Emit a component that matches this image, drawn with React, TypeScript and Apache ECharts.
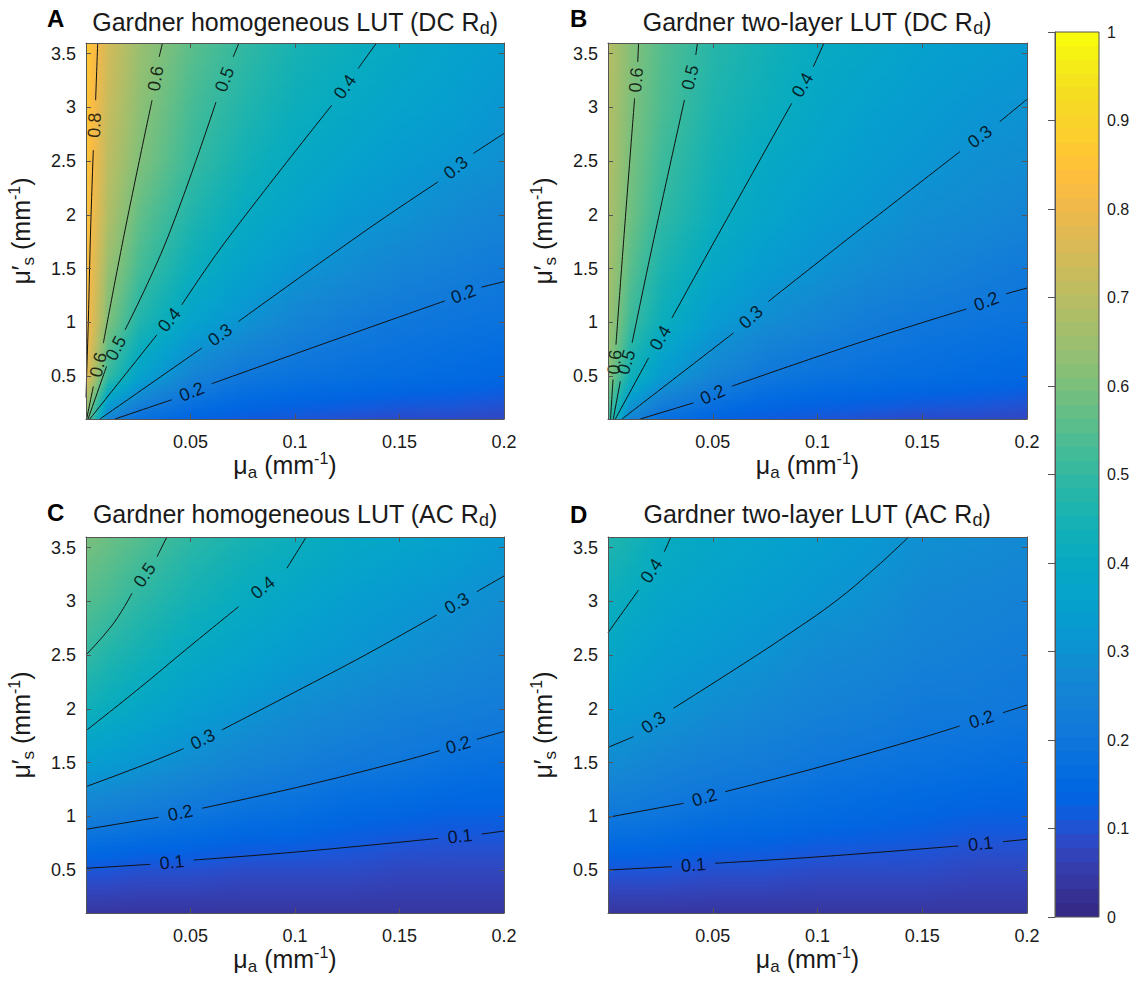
import React, { useEffect, useRef } from "react";
import * as echarts from "echarts";

const FONT = '"Liberation Sans", Arial, Helvetica, sans-serif';
const TEXT_COLOR = "#1a1a1a";
const AXIS_COLOR = "#555555";

// axis ranges and ticks
const X_MIN = 0;
const X_MAX = 0.2;
const Y_MIN = 0.1;
const Y_MAX = 3.6;
const X_TICKS = [0.05, 0.1, 0.15, 0.2];
const Y_TICKS = [0.5, 1, 1.5, 2, 2.5, 3, 3.5];

const MU_A_NODES = [0, 0.01, 0.025, 0.05, 0.075, 0.1, 0.125, 0.15, 0.175, 0.2];
const MU_S_NODES = [0.1, 0.5, 1.0, 1.5, 2.0, 2.5, 3.0, 3.6];

// rows follow MU_S_NODES (bottom to top), columns follow MU_A_NODES
const RD_A = [
  [0.61, 0.25, 0.17, 0.13, 0.11, 0.1, 0.09, 0.08, 0.08, 0.07],
  [0.79, 0.51, 0.36, 0.25, 0.2, 0.18, 0.17, 0.16, 0.15, 0.14],
  [0.84, 0.61, 0.47, 0.36, 0.3, 0.25, 0.22, 0.2, 0.19, 0.18],
  [0.85, 0.65, 0.53, 0.42, 0.36, 0.31, 0.28, 0.25, 0.23, 0.21],
  [0.86, 0.69, 0.57, 0.47, 0.4, 0.36, 0.32, 0.3, 0.27, 0.25],
  [0.87, 0.71, 0.61, 0.51, 0.44, 0.39, 0.36, 0.33, 0.31, 0.29],
  [0.87, 0.73, 0.63, 0.53, 0.47, 0.42, 0.39, 0.36, 0.34, 0.31],
  [0.88, 0.75, 0.65, 0.56, 0.5, 0.45, 0.42, 0.39, 0.36, 0.34],
];
const RD_B = [
  [0.52, 0.25, 0.17, 0.13, 0.11, 0.1, 0.09, 0.08, 0.08, 0.07],
  [0.63, 0.44, 0.33, 0.25, 0.2, 0.18, 0.17, 0.16, 0.15, 0.14],
  [0.66, 0.52, 0.42, 0.33, 0.28, 0.25, 0.22, 0.2, 0.19, 0.18],
  [0.67, 0.56, 0.46, 0.38, 0.33, 0.3, 0.27, 0.25, 0.23, 0.21],
  [0.68, 0.59, 0.5, 0.42, 0.37, 0.33, 0.31, 0.28, 0.27, 0.25],
  [0.69, 0.6, 0.52, 0.44, 0.39, 0.36, 0.33, 0.31, 0.29, 0.28],
  [0.69, 0.61, 0.54, 0.46, 0.42, 0.38, 0.35, 0.33, 0.31, 0.3],
  [0.7, 0.62, 0.55, 0.48, 0.44, 0.4, 0.38, 0.35, 0.34, 0.32],
];
const RD_C = [
  [0.03, 0.03, 0.03, 0.03, 0.03, 0.03, 0.03, 0.03, 0.03, 0.03],
  [0.1, 0.1, 0.09, 0.09, 0.08, 0.08, 0.08, 0.07, 0.07, 0.07],
  [0.23, 0.22, 0.21, 0.19, 0.17, 0.16, 0.14, 0.13, 0.12, 0.12],
  [0.34, 0.33, 0.31, 0.28, 0.25, 0.23, 0.21, 0.2, 0.18, 0.17],
  [0.43, 0.41, 0.38, 0.34, 0.31, 0.28, 0.26, 0.24, 0.23, 0.22],
  [0.5, 0.47, 0.44, 0.39, 0.36, 0.33, 0.31, 0.29, 0.27, 0.25],
  [0.55, 0.53, 0.49, 0.44, 0.4, 0.37, 0.34, 0.32, 0.3, 0.28],
  [0.6, 0.58, 0.55, 0.49, 0.45, 0.42, 0.39, 0.37, 0.35, 0.32],
];
const RD_D = [
  [0.03, 0.03, 0.03, 0.03, 0.03, 0.03, 0.03, 0.03, 0.03, 0.03],
  [0.1, 0.1, 0.1, 0.09, 0.09, 0.08, 0.08, 0.08, 0.07, 0.07],
  [0.2, 0.2, 0.19, 0.17, 0.16, 0.15, 0.14, 0.13, 0.12, 0.12],
  [0.28, 0.27, 0.25, 0.23, 0.22, 0.2, 0.19, 0.18, 0.17, 0.16],
  [0.33, 0.32, 0.31, 0.28, 0.26, 0.24, 0.23, 0.21, 0.21, 0.2],
  [0.38, 0.36, 0.34, 0.32, 0.3, 0.27, 0.26, 0.24, 0.23, 0.22],
  [0.42, 0.4, 0.37, 0.35, 0.33, 0.31, 0.29, 0.26, 0.25, 0.24],
  [0.47, 0.45, 0.41, 0.38, 0.36, 0.34, 0.32, 0.29, 0.28, 0.27],
];

type Pt = [number, number];
interface Contour {
  level: number;
  segments: Pt[][];
}

// contour lines [mu_a, mu_s'], split where the inline labels sit
const CONTOURS_A: Contour[] = [
  { level: 0.8, segments: [[[0.0056, 3.6], [0.0046, 3.067]], [[0.0035, 2.603], [0.0022, 1.86], [0.0011, 1.0], [0.0003, 0.5], [0, 0.3]]] },
  { level: 0.6, segments: [[[0.0366, 3.6], [0.035, 3.47]], [[0.0316, 3.067], [0.0187, 1.86], [0.0083, 0.806]], [[0.0035, 0.403], [0.0003, 0.1]]] },
  { level: 0.5, segments: [[[0.0732, 3.6], [0.0704, 3.47]], [[0.0622, 3.05], [0.0386, 1.766], [0.0187, 0.93]], [[0.0098, 0.589], [0.001, 0.1]]] },
  { level: 0.4, segments: [[[0.139, 3.6], [0.1302, 3.362]], [[0.1176, 3.021], [0.0673, 1.766], [0.0458, 1.162]], [[0.0339, 0.883], [0.0018, 0.1]]] },
  { level: 0.3, segments: [[[0.2, 2.758], [0.1853, 2.572]], [[0.1685, 2.308], [0.1343, 1.86], [0.0729, 1.007]], [[0.0554, 0.76], [0.0067, 0.1]]] },
  { level: 0.2, segments: [[[0.2, 1.379], [0.1892, 1.327]], [[0.1718, 1.2], [0.1159, 0.816], [0.0601, 0.428]], [[0.041, 0.279], [0.0139, 0.1]]] },
];
const CONTOURS_B: Contour[] = [
  { level: 0.6, segments: [[[0.0146, 3.6], [0.0142, 3.425]], [[0.0127, 3.085], [0.0075, 1.768], [0.0038, 0.792]], [[0.0024, 0.467], [0.0012, 0.1]]] },
  { level: 0.5, segments: [[[0.0427, 3.6], [0.0419, 3.488]], [[0.0365, 3.07], [0.0218, 1.768], [0.0115, 0.808]], [[0.0059, 0.451], [0.0025, 0.1]]] },
  { level: 0.4, segments: [[[0.1031, 3.6], [0.098, 3.379]], [[0.0877, 3.039], [0.0512, 1.768], [0.0305, 1.04]], [[0.0194, 0.669], [0.0035, 0.1]]] },
  { level: 0.3, segments: [[[0.2, 3.076], [0.187, 2.868]], [[0.168, 2.589], [0.1139, 1.768], [0.0766, 1.195]], [[0.0599, 0.901], [0.0067, 0.1]]] },
  { level: 0.2, segments: [[[0.2, 1.319], [0.1901, 1.266]], [[0.1711, 1.124], [0.117, 0.792], [0.0591, 0.405]], [[0.0408, 0.25], [0.0154, 0.1]]] },
];
const CONTOURS_C: Contour[] = [
  { level: 0.5, segments: [[[0.0387, 3.6], [0.034, 3.417]], [[0.022, 3.076], [0.0132, 2.797], [0, 2.502]]] },
  { level: 0.4, segments: [[[0.1054, 3.6], [0.0961, 3.309]], [[0.073, 2.951], [0.0483, 2.56], [0.026, 2.2], [0, 1.797]]] },
  { level: 0.3, segments: [[[0.2, 3.237], [0.187, 3.091]], [[0.1678, 2.874], [0.1344, 2.51], [0.0993, 2.15], [0.065, 1.804]], [[0.0467, 1.63], [0.0292, 1.49], [0, 1.276]]] },
  { level: 0.2, segments: [[[0.2, 1.79], [0.187, 1.717]], [[0.1691, 1.611], [0.1503, 1.508], [0.1025, 1.276], [0.0555, 1.075]], [[0.0347, 0.991], [0, 0.879]]] },
  { level: 0.1, segments: [[[0.2, 0.863], [0.1893, 0.835]], [[0.1686, 0.795], [0.1025, 0.671], [0.0515, 0.593]], [[0.0308, 0.553], [0, 0.516]]] },
];
const CONTOURS_D: Contour[] = [
  { level: 0.4, segments: [[[0.03, 3.6], [0.0269, 3.463]], [[0.0146, 3.107], [0, 2.709]]] },
  { level: 0.3, segments: [[[0.1435, 3.6], [0.1275, 3.31], [0.1085, 3.0], [0.085, 2.68], [0.0615, 2.38], [0.0313, 2.006]], [[0.0122, 1.741], [0, 1.642]]] },
  { level: 0.2, segments: [[[0.2, 2.036], [0.1886, 1.965]], [[0.1679, 1.841], [0.1489, 1.726], [0.1012, 1.46], [0.0559, 1.229]], [[0.0361, 1.121], [0, 0.991]]] },
  { level: 0.1, segments: [[[0.2, 0.786], [0.1886, 0.764]], [[0.1672, 0.724], [0.1012, 0.624], [0.0512, 0.563]], [[0.0305, 0.531], [0, 0.5]]] },
];

const PANEL_LETTERS = ["A", "B", "C", "D"];
const PANEL_TITLES = [
  "Gardner homogeneous LUT (DC R",
  "Gardner two-layer LUT (DC R",
  "Gardner homogeneous LUT (AC R",
  "Gardner two-layer LUT (AC R",
];
const PANEL_VALUES = [RD_A, RD_B, RD_C, RD_D];
const PANEL_CONTOURS = [CONTOURS_A, CONTOURS_B, CONTOURS_C, CONTOURS_D];

// layout (pixels)
const GRIDS = [
  { left: 86, top: 43, width: 418, height: 376 },
  { left: 608, top: 43, width: 419, height: 376 },
  { left: 86, top: 537, width: 418, height: 376 },
  { left: 608, top: 537, width: 419, height: 376 },
];
const LETTER_POS = [
  [47, 18.5],
  [570, 18.5],
  [47, 512],
  [570, 514],
];
const TITLE_POS = [
  [295, 22],
  [817, 22],
  [295, 513.5],
  [817, 513.5],
];
const CBAR_GRID = { left: 1055, top: 32, width: 44, height: 885 };

// MATLAB parula colormap (64 entries)
const PARULA: number[][] = [
  [0.2081, 0.1663, 0.5292], [0.2116, 0.1898, 0.5777], [0.2123, 0.2138, 0.627], [0.2081, 0.2386, 0.6771],
  [0.1959, 0.2645, 0.7279], [0.1707, 0.2919, 0.7792], [0.1253, 0.3242, 0.8303], [0.0591, 0.3598, 0.8683],
  [0.0117, 0.3875, 0.882], [0.006, 0.4086, 0.8828], [0.0165, 0.4266, 0.8786], [0.0329, 0.443, 0.872],
  [0.0498, 0.4586, 0.8641], [0.0629, 0.4737, 0.8554], [0.0723, 0.4887, 0.8467], [0.0779, 0.504, 0.8384],
  [0.0793, 0.52, 0.8312], [0.0749, 0.5375, 0.8263], [0.0641, 0.557, 0.824], [0.0488, 0.5772, 0.8228],
  [0.0343, 0.5966, 0.8199], [0.0265, 0.6137, 0.8135], [0.0239, 0.6287, 0.8038], [0.0231, 0.6418, 0.7913],
  [0.0228, 0.6535, 0.7768], [0.0267, 0.6642, 0.7607], [0.0384, 0.6743, 0.7436], [0.059, 0.6838, 0.7254],
  [0.0843, 0.6928, 0.7062], [0.1133, 0.7015, 0.6859], [0.1453, 0.7098, 0.6646], [0.1801, 0.7177, 0.6424],
  [0.2178, 0.725, 0.6193], [0.2586, 0.7317, 0.5954], [0.3022, 0.7376, 0.5712], [0.3482, 0.7424, 0.5473],
  [0.3953, 0.7459, 0.5244], [0.442, 0.7481, 0.5033], [0.4871, 0.7491, 0.484], [0.53, 0.7491, 0.4661],
  [0.5709, 0.7485, 0.4494], [0.6099, 0.7473, 0.4337], [0.6473, 0.7456, 0.4188], [0.6834, 0.7435, 0.4044],
  [0.7184, 0.7411, 0.3905], [0.7525, 0.7384, 0.3768], [0.7858, 0.7356, 0.3633], [0.8185, 0.7327, 0.3498],
  [0.8507, 0.7299, 0.336], [0.8824, 0.7274, 0.3217], [0.9139, 0.7258, 0.3063], [0.945, 0.7261, 0.2886],
  [0.9739, 0.7314, 0.2666], [0.9938, 0.7455, 0.2403], [0.999, 0.7653, 0.2164], [0.9955, 0.7861, 0.1967],
  [0.988, 0.8066, 0.1794], [0.9789, 0.8271, 0.1633], [0.9697, 0.8481, 0.1475], [0.9626, 0.8705, 0.1309],
  [0.9589, 0.8949, 0.1132], [0.9598, 0.9218, 0.0948], [0.9661, 0.9514, 0.0755], [0.9763, 0.9831, 0.0538],
];

function rgb(c: number[]): string {
  return `rgb(${Math.round(c[0] * 255)},${Math.round(c[1] * 255)},${Math.round(c[2] * 255)})`;
}

function parula(v: number): string {
  const t = Math.max(0, Math.min(1, v)) * (PARULA.length - 1);
  const i = Math.min(PARULA.length - 2, Math.floor(t));
  const f = t - i;
  const a = PARULA[i];
  const b = PARULA[i + 1];
  return rgb([a[0] + (b[0] - a[0]) * f, a[1] + (b[1] - a[1]) * f, a[2] + (b[2] - a[2]) * f]);
}

function buildCells(values: number[][]) {
  const cells: number[][] = [];
  for (let j = 0; j < MU_S_NODES.length - 1; j++) {
    for (let i = 0; i < MU_A_NODES.length - 1; i++) {
      cells.push([
        MU_A_NODES[i], MU_S_NODES[j], MU_A_NODES[i + 1], MU_S_NODES[j + 1],
        values[j][i], values[j][i + 1], values[j + 1][i], values[j + 1][i + 1],
      ]);
    }
  }
  return cells;
}

// each cell is shaded between its four read corner values
const renderCell = (_params: any, api: any) => {
  const pA = api.coord([api.value(0), api.value(1)]);
  const pB = api.coord([api.value(2), api.value(3)]);
  const v00 = api.value(4);
  const v10 = api.value(5);
  const v01 = api.value(6);
  const v11 = api.value(7);
  const left = pA[0];
  const right = pB[0];
  const bottom = pA[1];
  const top = pB[1];
  const h = bottom - top;
  const n = Math.max(1, Math.round(h / 4));
  const children: any[] = [];
  for (let k = 0; k < n; k++) {
    const t = (k + 0.5) / n;
    const vl = v00 + (v01 - v00) * t;
    const vr = v10 + (v11 - v10) * t;
    const yTop = bottom - ((k + 1) * h) / n;
    const stops = [0, 0.25, 0.5, 0.75, 1].map((o) => ({ offset: o, color: parula(vl + (vr - vl) * o) }));
    children.push({
      type: "rect",
      shape: { x: left, y: yTop - 0.5, width: right - left + 1, height: h / n + 1 },
      style: { fill: new echarts.graphic.LinearGradient(0, 0, 1, 0, stops) },
    });
  }
  return { type: "group", children };
};

// discrete 64-band colour bar stops, as MATLAB draws it
function colorbarStops() {
  const n = PARULA.length;
  const stops: { offset: number; color: string }[] = [];
  PARULA.forEach((c, i) => {
    stops.push({ offset: i / n, color: rgb(c) });
    stops.push({ offset: (i + 1) / n, color: rgb(c) });
  });
  return stops;
}

const NAME_RICH = {
  m: { fontSize: 25, fontFamily: FONT, color: TEXT_COLOR, lineHeight: 32 },
  sub: { fontSize: 17, fontFamily: FONT, color: TEXT_COLOR, height: 18, verticalAlign: "bottom" },
  sup: { fontSize: 16, fontFamily: FONT, color: TEXT_COLOR, height: 18, verticalAlign: "top" },
};
const X_NAME = "{m|μ}{sub|a}{m| (mm}{sup|-1}{m|)}";
const Y_NAME = "{m|μ′}{sub|s}{m| (mm}{sup|-1}{m|)}";

function buildOption() {
  const axisLine = { show: true, onZero: false, lineStyle: { color: AXIS_COLOR, width: 1 } };
  const tickStyle = { color: AXIS_COLOR, width: 1 };
  const tickLabel = { fontSize: 18, color: TEXT_COLOR, fontFamily: FONT };

  const xAxis: any[] = [];
  const yAxis: any[] = [];
  const series: any[] = [];

  GRIDS.forEach((g, p) => {
    xAxis.push({
      type: "value", gridIndex: p, min: X_MIN, max: X_MAX, position: "bottom", z: 10,
      axisLine,
      axisTick: { show: true, inside: true, length: 5, customValues: X_TICKS, lineStyle: tickStyle },
      axisLabel: { show: true, customValues: X_TICKS, margin: 14, ...tickLabel },
      splitLine: { show: false },
      name: X_NAME, nameLocation: "middle", nameGap: 30, nameMoveOverlap: false,
      nameTextStyle: { rich: NAME_RICH, padding: [0, 20, 0, 0] },
    });
    xAxis.push({
      type: "value", gridIndex: p, min: X_MIN, max: X_MAX, position: "top", z: 10,
      axisLine,
      axisTick: { show: true, inside: true, length: 5, customValues: X_TICKS, lineStyle: tickStyle },
      axisLabel: { show: false },
      splitLine: { show: false },
    });
    yAxis.push({
      type: "value", gridIndex: p, min: Y_MIN, max: Y_MAX, position: "left", z: 10,
      axisLine,
      axisTick: { show: true, inside: true, length: 5, customValues: Y_TICKS, lineStyle: tickStyle },
      axisLabel: { show: true, customValues: Y_TICKS, margin: 10, ...tickLabel },
      splitLine: { show: false },
      name: Y_NAME, nameLocation: "middle", nameGap: 49, nameRotate: 90, nameMoveOverlap: false,
      nameTextStyle: { rich: NAME_RICH },
    });
    yAxis.push({
      type: "value", gridIndex: p, min: Y_MIN, max: Y_MAX, position: "right", z: 10,
      axisLine,
      axisTick: { show: true, inside: true, length: 5, customValues: Y_TICKS, lineStyle: tickStyle },
      axisLabel: { show: false },
      splitLine: { show: false },
    });

    series.push({
      type: "custom",
      xAxisIndex: 2 * p,
      yAxisIndex: 2 * p,
      data: buildCells(PANEL_VALUES[p]),
      encode: { x: [0, 2], y: [1, 3] },
      renderItem: renderCell,
      clip: true,
      silent: true,
      z: 1,
    });

    const labelData: any[] = [];
    PANEL_CONTOURS[p].forEach((c) => {
      c.segments.forEach((seg) => {
        series.push({
          type: "line",
          xAxisIndex: 2 * p,
          yAxisIndex: 2 * p,
          data: seg,
          showSymbol: false,
          symbol: "none",
          smooth: 0.4,
          clip: true,
          silent: true,
          lineStyle: { color: "#111111", width: 1 },
          z: 3,
        });
      });
      for (let k = 0; k < c.segments.length - 1; k++) {
        const a = c.segments[k][c.segments[k].length - 1];
        const b = c.segments[k + 1][0];
        const dx = ((b[0] - a[0]) / (X_MAX - X_MIN)) * g.width;
        const dy = ((b[1] - a[1]) / (Y_MAX - Y_MIN)) * g.height;
        let ang = (Math.atan2(dy, dx) * 180) / Math.PI;
        if (ang > 90) ang -= 180;
        if (ang < -90) ang += 180;
        labelData.push({
          name: c.level.toFixed(1),
          value: [(a[0] + b[0]) / 2, (a[1] + b[1]) / 2],
          label: { rotate: ang },
        });
      }
    });
    series.push({
      type: "scatter",
      xAxisIndex: 2 * p,
      yAxisIndex: 2 * p,
      data: labelData,
      symbolSize: 1,
      itemStyle: { color: "rgba(0,0,0,0)" },
      label: { show: true, position: "inside", formatter: "{b}", fontSize: 18, color: "#000", fontFamily: FONT },
      silent: true,
      z: 4,
    });
  });

  // colorbar
  xAxis.push({ type: "value", gridIndex: 4, min: 0, max: 1, show: false });
  yAxis.push({
    type: "value", gridIndex: 4, min: 0, max: 1, interval: 0.1, position: "right", z: 10,
    axisLine: { show: true, lineStyle: { color: AXIS_COLOR, width: 1 } },
    axisTick: { show: true, inside: true, length: 7, lineStyle: tickStyle },
    axisLabel: { show: true, margin: 8, fontSize: 16, color: TEXT_COLOR, fontFamily: FONT },
    splitLine: { show: false },
  });
  series.push({
    type: "custom",
    xAxisIndex: 8,
    yAxisIndex: 8,
    data: [[0, 0, 1, 1]],
    encode: { x: [0, 2], y: [1, 3] },
    silent: true,
    z: 1,
    renderItem: (_params: any, api: any) => {
      const p0 = api.coord([api.value(0), api.value(1)]);
      const p1 = api.coord([api.value(2), api.value(3)]);
      return {
        type: "rect",
        shape: { x: p0[0], y: p1[1], width: p1[0] - p0[0], height: p0[1] - p1[1] },
        style: {
          fill: new echarts.graphic.LinearGradient(0, 1, 0, 0, colorbarStops()),
          stroke: AXIS_COLOR,
          lineWidth: 1,
        },
      };
    },
  });

  const graphic: any[] = [];
  PANEL_LETTERS.forEach((letter, p) => {
    graphic.push({
      type: "text",
      x: LETTER_POS[p][0],
      y: LETTER_POS[p][1],
      style: {
        text: letter,
        fill: "#000",
        font: `bold 24px ${FONT}`,
        align: "left",
        verticalAlign: "middle",
      },
    });
    graphic.push({
      type: "text",
      x: TITLE_POS[p][0],
      y: TITLE_POS[p][1],
      style: {
        text: `{m|${PANEL_TITLES[p]}}{sub|d}{m|)}`,
        align: "center",
        verticalAlign: "middle",
        fill: TEXT_COLOR,
        font: `25px ${FONT}`,
        rich: {
          m: { fontSize: 25, fontFamily: FONT, fill: TEXT_COLOR, lineHeight: 32 },
          sub: { fontSize: 18, fontFamily: FONT, fill: TEXT_COLOR, height: 20, verticalAlign: "bottom" },
        },
      },
    });
  });

  return {
    animation: false,
    backgroundColor: "#ffffff",
    grid: [
      ...GRIDS.map((g) => ({ ...g, containLabel: false, outerBoundsMode: "none" })),
      { ...CBAR_GRID, containLabel: false, outerBoundsMode: "none" },
    ],
    xAxis,
    yAxis,
    series,
    graphic,
  };
}

export default function App() {
  const ref = useRef<HTMLDivElement>(null);
  useEffect(() => {
    if (!ref.current) return;
    const chart = echarts.init(ref.current, null, { renderer: "svg" });
    chart.setOption(buildOption() as any);
    return () => chart.dispose();
  }, []);
  return (
    <div
      ref={ref}
      style={{ position: "absolute", left: 0, top: 0, width: 1145, height: 981, background: "#fff" }}
    />
  );
}
